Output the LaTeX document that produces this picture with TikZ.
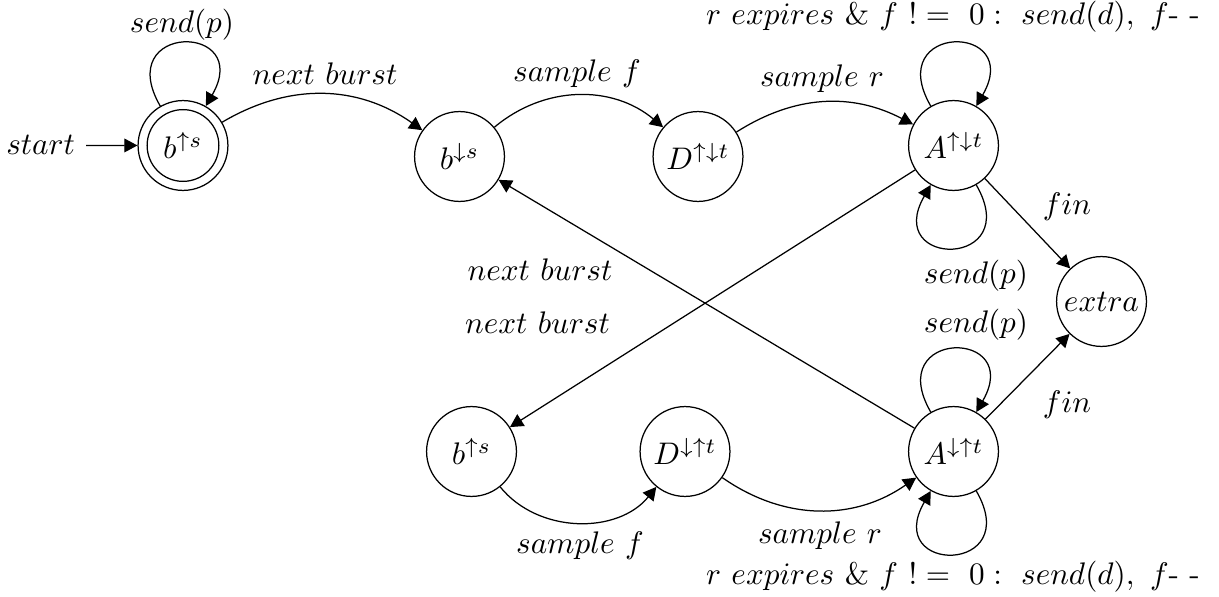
\documentclass[tikz,border=0pt]{standalone}
\usetikzlibrary{arrows.meta}
\begin{document}
\begin{tikzpicture}[x=0.3205pt,y=0.3205pt,
  st/.style={circle,draw,minimum size=28.8pt,inner sep=0pt},
  lbl/.style={anchor=base,inner sep=0pt},
  tr/.style={-{Triangle[length=4.2pt,width=4.4pt]}},
  wideloop above/.style={loop, out=120, in=60, distance=31pt},
  wideloop below/.style={loop, out=300, in=240, distance=31pt}]
\useasboundingbox (0,0) rectangle (1219,-596);

% states
\node[st] (b1) at (183,-145.5) {$b^{\uparrow s}$};
\draw (b1.center) circle[radius=11.5pt];
\node[st] (b2) at (459.5,-156.5) {$b^{\downarrow s}$};
\node[st] (d1) at (698,-156.5) {$D^{\uparrow\downarrow t}$};
\node[st] (a1) at (953.5,-145.5) {$A^{\uparrow\downarrow t}$};
\node[st] (ex) at (1101.5,-301.5) {$extra$};
\node[st] (a2) at (953.5,-451.5) {$A^{\downarrow\uparrow t}$};
\node[st] (b3) at (471.5,-451.5) {$b^{\uparrow s}$};
\node[st] (d2) at (685,-451.5) {$D^{\downarrow\uparrow t}$};

% initial marker
\node[anchor=base east] (init) at (86,-155) {$start$};
\draw[tr] (init) -- (b1);

% transitions
\draw[tr] (b1) to[wideloop above] (b1);
\draw[tr] (b1) to[bend left=33] (b2);
\draw[tr] (b2) to[bend left=40] (d1);
\draw[tr] (d1) to[bend left=30] (a1);
\draw[tr] (a1) to[wideloop above] (a1);
\draw[tr] (a1) to[wideloop below] (a1);
\draw[tr] (a1) -- (ex);
\draw[tr] (a1) -- (b3);
\draw[tr] (a2) -- (b2);
\draw[tr] (a2) -- (ex);
\draw[tr] (a2) to[wideloop above] (a2);
\draw[tr] (a2) to[wideloop below] (a2);
\draw[tr] (b3) to[bend right=51] (d2);
\draw[tr] (d2) to[bend right=35] (a2);

% transition labels
\node[lbl] (l1) at (182,-33) {$send(p)$};
\node[lbl] (l2) at (325,-85) {$next\ burst$};
\node[lbl] (l3) at (577,-82) {$sample\ f$};
\node[lbl] (l4) at (822,-87) {$sample\ r$};
\node[lbl] (l5) at (953,-25) {$r\ expires\ \&\ f\ !=\ 0:\ send(d),\ f\mbox{-}\ \mbox{-}$};
\node[lbl] (l6) at (976,-283) {$send(p)$};
\node[lbl] (l7) at (976,-332) {$send(p)$};
\node[lbl] (l8) at (1067,-215) {$fin$};
\node[lbl] (l9) at (1067,-412) {$fin$};
\node[lbl] (l10) at (540,-280) {$next\ burst$};
\node[lbl] (l11) at (537.5,-333) {$next\ burst$};
\node[lbl] (l12) at (580,-553) {$sample\ f$};
\node[lbl] (l13) at (820,-543) {$sample\ r$};
\node[lbl] (l14) at (953,-584) {$r\ expires\ \&\ f\ !=\ 0:\ send(d),\ f\mbox{-}\ \mbox{-}$};
\end{tikzpicture}
\end{document}
